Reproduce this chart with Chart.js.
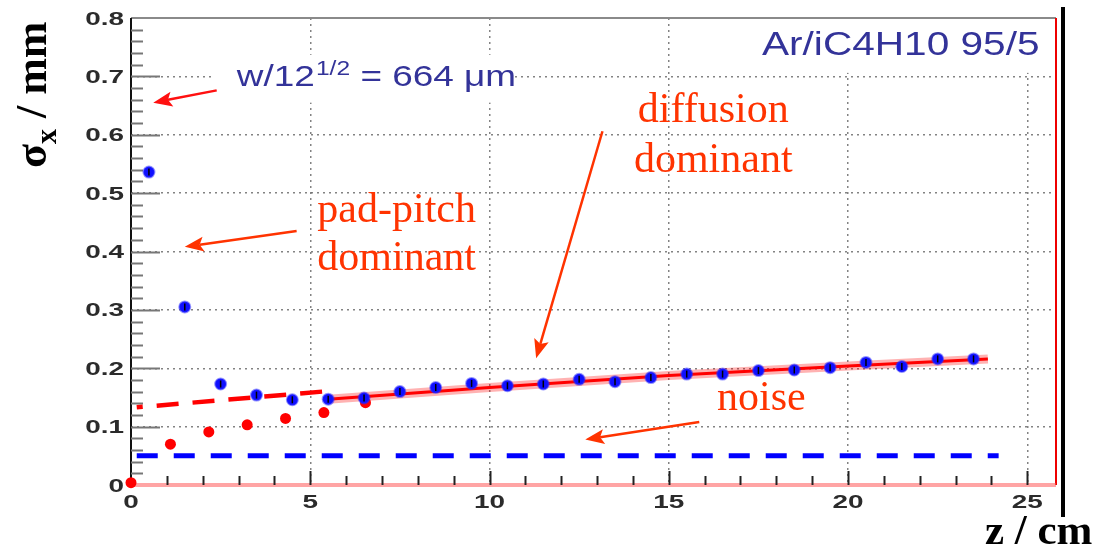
<!DOCTYPE html>
<html>
<head>
<meta charset="utf-8">
<title>sigma_x vs z</title>
<script src="https://cdn.jsdelivr.net/npm/chart.js@4.4.0/dist/chart.umd.min.js"></script>
<style>
  html, body { margin: 0; padding: 0; background: #fff; }
  #wrap { width: 1113px; height: 549px; }
</style>
</head>
<body>
<div id="wrap"><canvas id="chart" width="1113" height="549"></canvas></div>
<script>
// ---- data ----
const zBlue = [0.5, 1.5, 2.5, 3.5, 4.5, 5.5, 6.5, 7.5, 8.5, 9.5, 10.5, 11.5,
               12.5, 13.5, 14.5, 15.5, 16.5, 17.5, 18.5, 19.5, 20.5, 21.5, 22.5, 23.5];
const sBlue = [0.536, 0.305, 0.173, 0.154, 0.146, 0.147, 0.149, 0.160, 0.167, 0.174, 0.170, 0.173,
               0.181, 0.177, 0.184, 0.190, 0.190, 0.196, 0.197, 0.201, 0.210, 0.203, 0.216, 0.216];

const zRed = [0, 1.1, 2.17, 3.24, 4.31, 5.38, 6.54];
const sRed = [0.004, 0.070, 0.091, 0.103, 0.114, 0.124, 0.141];

// diffusion fit (solid) and pad-pitch guide (dashed)
const zFit = [5.5, 10, 15, 20, 23.9];
const sFit = [0.147, 0.167, 0.1875, 0.204, 0.216];
const zPad = [0.16, 5.53];
const sPad = [0.133, 0.161];

// noise level
const zNoise = [0.16, 24.2];
const sNoise = [0.050, 0.050];

// axis ranges / ticks
const xMin = 0, xMax = 25.8, xStep = 5;
const yMin = 0, yMax = 0.8, yStep = 0.1;

const RED_TXT = "#ff3300";
const BLUE_TXT = "#333399";

const toPts = (xs, ys) => xs.map((x, i) => ({ x, y: ys[i] }));

// annotations in data units: [z, sigma]
const arrows = [
  { from: [2.39, 0.676], to: [0.62, 0.655], color: "#ff1010" },
  { from: [4.62, 0.435], to: [1.50, 0.408], color: RED_TXT },
  { from: [13.15, 0.606], to: [11.30, 0.217], color: RED_TXT },
  { from: [15.85, 0.108], to: [12.67, 0.078], color: RED_TXT },
];
const serifLabels = [
  { text: "pad-pitch", at: [7.41, 0.450] },
  { text: "dominant", at: [7.41, 0.368] },
  { text: "diffusion", at: [16.24, 0.622] },
  { text: "dominant", at: [16.24, 0.536] },
  { text: "noise", at: [17.58, 0.128] },
];
// white boxes that hide the grid behind the two sans labels
const boxes = [
  { x0: 2.34, x1: 10.6, y0: 0.655, y1: 0.737 },
  { x0: 17.3, x1: xMax, y0: 0.706, y1: yMax },
];

function arrow(ctx, x1, y1, x2, y2, color) {
  const ang = Math.atan2(y2 - y1, x2 - x1);
  const hl = 19, hw = 7.5;
  const bx = x2 - hl * Math.cos(ang), by = y2 - hl * Math.sin(ang);
  ctx.save();
  ctx.strokeStyle = color;
  ctx.fillStyle = color;
  ctx.lineWidth = 2.5;
  ctx.beginPath();
  ctx.moveTo(x1, y1);
  ctx.lineTo(bx + 4 * Math.cos(ang), by + 4 * Math.sin(ang));
  ctx.stroke();
  ctx.beginPath();
  ctx.moveTo(x2, y2);
  ctx.lineTo(bx + hw * Math.sin(ang), by - hw * Math.cos(ang));
  ctx.lineTo(bx + 4 * Math.cos(ang), by + 4 * Math.sin(ang));
  ctx.lineTo(bx - hw * Math.sin(ang), by + hw * Math.cos(ang));
  ctx.closePath();
  ctx.fill();
  ctx.restore();
}

function wideText(ctx, txt, x, y, sx, align) {
  ctx.save();
  ctx.translate(x, y);
  ctx.scale(sx, 1);
  ctx.textAlign = align;
  ctx.fillText(txt, 0, 0);
  ctx.restore();
}

const framePlugin = {
  id: "frame",
  beforeDatasetsDraw(chart) {
    const { ctx, chartArea: a, scales: { x, y } } = chart;
    ctx.save();
    // label boxes cover the grid
    ctx.fillStyle = "#fff";
    boxes.forEach(b => {
      const l = x.getPixelForValue(b.x0), r = x.getPixelForValue(b.x1);
      const t = y.getPixelForValue(b.y1), btm = y.getPixelForValue(b.y0);
      ctx.fillRect(l, t, r - l, btm - t);
    });

    // frame
    ctx.lineWidth = 2;
    ctx.strokeStyle = "#8a8a8a";
    ctx.beginPath(); ctx.moveTo(a.left, a.top); ctx.lineTo(a.right, a.top); ctx.stroke();
    ctx.strokeStyle = "#ee0000";
    ctx.beginPath(); ctx.moveTo(a.right, a.top); ctx.lineTo(a.right, a.bottom); ctx.stroke();
    ctx.lineWidth = 4;
    ctx.strokeStyle = "rgba(255,90,90,0.55)";
    ctx.beginPath(); ctx.moveTo(a.left, a.bottom); ctx.lineTo(a.right, a.bottom); ctx.stroke();
    ctx.lineWidth = 2;
    ctx.strokeStyle = "#111";
    ctx.beginPath(); ctx.moveTo(a.left, a.top); ctx.lineTo(a.left, a.bottom); ctx.stroke();

    // y ticks (inward)
    ctx.strokeStyle = "#777";
    ctx.lineWidth = 2;
    for (let k = 1; k < 40; k++) {
      const py = Math.round(y.getPixelForValue(k * 0.02)) + 0.5;
      const len = k % 5 === 0 ? 29 : 12;
      ctx.beginPath(); ctx.moveTo(a.left, py); ctx.lineTo(a.left + len, py); ctx.stroke();
    }
    // x ticks (inward)
    ctx.strokeStyle = "#222";
    for (let k = 1; k <= 25; k++) {
      const px = Math.round(x.getPixelForValue(k)) + 0.5;
      const len = k % 5 === 0 ? 14 : 9;
      ctx.beginPath(); ctx.moveTo(px, a.bottom); ctx.lineTo(px, a.bottom - len); ctx.stroke();
    }

    // tick labels
    ctx.fillStyle = "#2b2b2b";
    ctx.font = 'bold 18px "Liberation Sans", Arial, sans-serif';
    ctx.textBaseline = "alphabetic";
    y.ticks.forEach(t => {
      const v = Math.round(t.value * 10) / 10;
      const txt = v === 0 ? "0" : v.toFixed(1);
      wideText(ctx, txt, a.left - 7, y.getPixelForValue(v) + 6.5, 1.55, "right");
    });
    x.ticks.forEach(t => {
      wideText(ctx, String(Math.round(t.value)), x.getPixelForValue(t.value), a.bottom + 23, 1.55, "center");
    });
    ctx.restore();
  },
  afterDraw(chart) {
    const { ctx, chartArea: a, scales: { x, y } } = chart;
    const P = p => [x.getPixelForValue(p[0]), y.getPixelForValue(p[1])];
    ctx.save();

    arrows.forEach(ar => {
      const [x1, y1] = P(ar.from), [x2, y2] = P(ar.to);
      arrow(ctx, x1, y1, x2, y2, ar.color);
    });

    // serif red labels
    ctx.fillStyle = RED_TXT;
    ctx.font = '42px "Liberation Serif", "Times New Roman", serif';
    ctx.textBaseline = "alphabetic";
    serifLabels.forEach(l => {
      const [px, py] = P(l.at);
      ctx.textAlign = "center";
      ctx.fillText(l.text, px, py);
    });

    // w/12^(1/2) = 664 um
    ctx.fillStyle = BLUE_TXT;
    let [wx, wy] = P([2.95, 0.683]);
    ctx.translate(wx, wy);
    ctx.scale(1.23, 1);
    ctx.textAlign = "left";
    ctx.font = '30px "Liberation Sans", Arial, sans-serif';
    let cx = 0;
    ctx.fillText("w/12", cx, 0);
    cx += ctx.measureText("w/12").width + 1;
    ctx.font = '20px "Liberation Sans", Arial, sans-serif';
    ctx.fillText("1/2", cx, -11);
    cx += ctx.measureText("1/2").width;
    ctx.font = '30px "Liberation Sans", Arial, sans-serif';
    ctx.fillText(" = 664 \u03bcm", cx, 0);
    ctx.setTransform(1, 0, 0, 1, 0, 0);

    // gas label
    const [gx, gy] = P([17.6, 0.736]);
    ctx.font = '33px "Liberation Sans", Arial, sans-serif';
    wideText(ctx, "Ar/iC4H10 95/5", gx, gy, 1.23, "left");

    // thick black line right of the frame
    ctx.strokeStyle = "#000";
    ctx.lineWidth = 4;
    ctx.beginPath(); ctx.moveTo(a.right + 7, 7); ctx.lineTo(a.right + 7, 517); ctx.stroke();

    // axis titles
    ctx.fillStyle = "#000";
    ctx.textAlign = "left";
    ctx.translate(a.left - 85, 168);
    ctx.rotate(-Math.PI / 2);
    ctx.font = 'bold 44px "Liberation Serif", "Times New Roman", serif';
    ctx.fillText("\u03c3", 0, 0);
    let sx = ctx.measureText("\u03c3").width;
    ctx.font = 'bold 30px "Liberation Serif", "Times New Roman", serif';
    ctx.fillText("x", sx, 10);
    sx += ctx.measureText("x").width;
    ctx.font = 'bold 44px "Liberation Serif", "Times New Roman", serif';
    ctx.fillText(" / mm", sx, 0);
    ctx.setTransform(1, 0, 0, 1, 0, 0);

    ctx.font = 'bold 43px "Liberation Serif", "Times New Roman", serif';
    ctx.fillText("z / cm", a.right - 71, 544);
    ctx.restore();
  }
};

const gridColor = max => c =>
  (c.tick && c.tick.value > 1e-6 && c.tick.value < max - 1e-6) ? "rgba(90,90,90,0.75)" : "rgba(0,0,0,0)";

const chart = new Chart(document.getElementById("chart"), {
  type: "scatter",
  data: {
    datasets: [
      { label: "error bars", data: toPts(zBlue, sBlue), pointStyle: "line", rotation: 90,
        pointRadius: 3.5, borderColor: "#000", borderWidth: 1.5, backgroundColor: "#000" },
      { label: "sigma_x", data: toPts(zBlue, sBlue), pointRadius: 5.5,
        backgroundColor: "#1010ff", borderColor: "rgba(40,40,255,0.5)", borderWidth: 2 },
      { label: "pad pitch", data: toPts(zRed, sRed), pointRadius: 5.5,
        backgroundColor: "#ff0000", borderWidth: 0, clip: false },
      { label: "fit", data: toPts(zFit, sFit), showLine: true, pointRadius: 0,
        borderColor: "#ff0000", borderWidth: 3 },
      { label: "fit band", data: toPts(zFit, sFit), showLine: true, pointRadius: 0,
        borderColor: "rgba(255,0,0,0.3)", borderWidth: 9 },
      { label: "pad guide", data: toPts(zPad, sPad), showLine: true, pointRadius: 0,
        borderColor: "#ff0000", borderWidth: 4.5, borderDash: [22, 14], borderDashOffset: 16 },
      { label: "noise", data: toPts(zNoise, sNoise), showLine: true, pointRadius: 0,
        borderColor: "#0000ff", borderWidth: 5, borderDash: [21, 16] },
    ]
  },
  options: {
    responsive: false,
    animation: false,
    devicePixelRatio: 1,
    events: [],
    layout: { padding: { top: 18, right: 57, left: 0, bottom: 0 } },
    plugins: { legend: { display: false }, tooltip: { enabled: false } },
    scales: {
      x: {
        type: "linear", min: xMin, max: xMax,
        ticks: { display: false, stepSize: xStep, includeBounds: false },
        grid: { drawTicks: false, color: gridColor(xMax), lineWidth: 1.5 },
        border: { display: false, dash: [2, 4] },
        afterFit: s => { s.height = 64; }
      },
      y: {
        type: "linear", min: yMin, max: yMax,
        ticks: { display: false, stepSize: yStep, includeBounds: false },
        grid: { drawTicks: false, color: gridColor(yMax), lineWidth: 1.5 },
        border: { display: false, dash: [2, 4] },
        afterFit: s => { s.width = 131; }
      }
    }
  },
  plugins: [framePlugin]
});
</script>
</body>
</html>
